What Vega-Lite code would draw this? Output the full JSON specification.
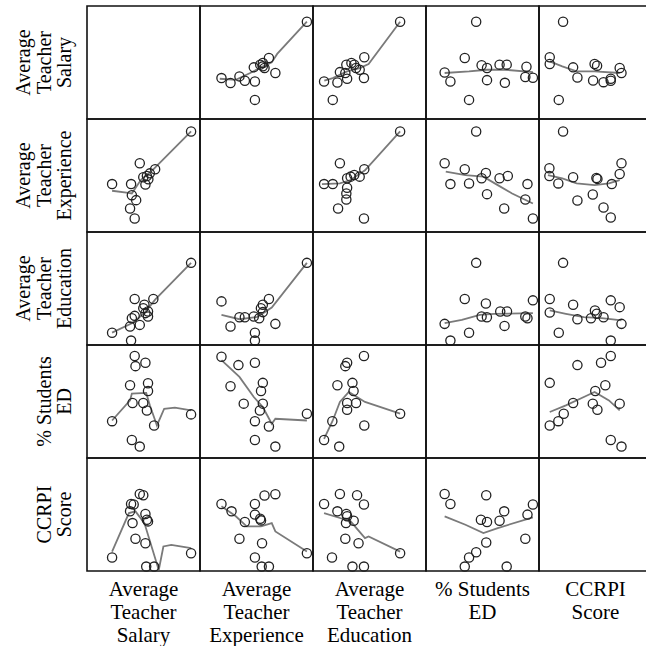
{
"$schema": "https://vega.github.io/schema/vega-lite/v6.json",
"padding": {"left": 14, "top": 5, "right": 0, "bottom": 0},
"background": "white",
"bounds": "flush",
"data": {"values": [
{"r":"S","c":"S","k":"d","x":50,"y":50},
{"r":"X","c":"X","k":"d","x":50,"y":50},
{"r":"E","c":"E","k":"d","x":50,"y":50},
{"r":"D","c":"D","k":"d","x":50,"y":50},
{"r":"C","c":"C","k":"d","x":50,"y":50},
{"r":"S","c":"X","k":"p","x":94.6,"y":86.1},{"r":"S","c":"X","k":"p","x":61.0,"y":54.0},{"r":"S","c":"X","k":"p","x":66.7,"y":40.7},{"r":"S","c":"X","k":"p","x":19.0,"y":36.2},{"r":"S","c":"X","k":"p","x":27.0,"y":31.8},{"r":"S","c":"X","k":"p","x":34.9,"y":37.7},{"r":"S","c":"X","k":"p","x":39.7,"y":33.8},{"r":"S","c":"X","k":"p","x":48.6,"y":33.2},{"r":"S","c":"X","k":"p","x":48.6,"y":16.9},{"r":"S","c":"X","k":"p","x":47.6,"y":45.7},{"r":"S","c":"X","k":"p","x":53.3,"y":48.1},{"r":"S","c":"X","k":"p","x":55.6,"y":49.6},{"r":"S","c":"X","k":"p","x":57.1,"y":45.1},{"r":"S","c":"X","k":"p","x":55.6,"y":46.6},
{"r":"S","c":"X","k":"l","x":17.5,"y":35.6},{"r":"S","c":"X","k":"l","x":31.7,"y":34.7},{"r":"S","c":"X","k":"l","x":44.4,"y":40.7},{"r":"S","c":"X","k":"l","x":54,"y":45.7},{"r":"S","c":"X","k":"l","x":63.5,"y":50.1},{"r":"S","c":"X","k":"l","x":68.3,"y":57.6},{"r":"S","c":"X","k":"l","x":94.6,"y":86.1},
{"r":"S","c":"E","k":"p","x":77.1,"y":86.1},{"r":"S","c":"E","k":"p","x":45.4,"y":54.6},{"r":"S","c":"E","k":"p","x":9.8,"y":33.2},{"r":"S","c":"E","k":"p","x":17.5,"y":16.9},{"r":"S","c":"E","k":"p","x":21.6,"y":32.3},{"r":"S","c":"E","k":"p","x":23.8,"y":41.5},{"r":"S","c":"E","k":"p","x":28.6,"y":40.7},{"r":"S","c":"E","k":"p","x":29.5,"y":48.1},{"r":"S","c":"E","k":"p","x":34.0,"y":49.6},{"r":"S","c":"E","k":"p","x":36.5,"y":48.1},{"r":"S","c":"E","k":"p","x":30.2,"y":35.6},{"r":"S","c":"E","k":"p","x":38.1,"y":45.1},{"r":"S","c":"E","k":"p","x":41.3,"y":43.6},{"r":"S","c":"E","k":"p","x":45.1,"y":36.2},
{"r":"S","c":"E","k":"l","x":10,"y":34},{"r":"S","c":"E","k":"l","x":17.5,"y":36.2},{"r":"S","c":"E","k":"l","x":30.2,"y":42.1},{"r":"S","c":"E","k":"l","x":41.3,"y":45.1},{"r":"S","c":"E","k":"l","x":49.2,"y":48.7},{"r":"S","c":"E","k":"l","x":77.1,"y":86.1},
{"r":"S","c":"D","k":"p","x":44.4,"y":86.1},{"r":"S","c":"D","k":"p","x":34.3,"y":54.0},{"r":"S","c":"D","k":"p","x":16.5,"y":41.2},{"r":"S","c":"D","k":"p","x":21.6,"y":33.2},{"r":"S","c":"D","k":"p","x":49.2,"y":47.5},{"r":"S","c":"D","k":"p","x":54.0,"y":45.1},{"r":"S","c":"D","k":"p","x":54.0,"y":34.4},{"r":"S","c":"D","k":"p","x":65.1,"y":48.1},{"r":"S","c":"D","k":"p","x":71.4,"y":48.1},{"r":"S","c":"D","k":"p","x":69.8,"y":32.0},{"r":"S","c":"D","k":"p","x":38.1,"y":16.9},{"r":"S","c":"D","k":"p","x":88.9,"y":46.3},{"r":"S","c":"D","k":"p","x":87.9,"y":37.1},{"r":"S","c":"D","k":"p","x":94.6,"y":36.5},
{"r":"S","c":"D","k":"l","x":16.5,"y":40.7},{"r":"S","c":"D","k":"l","x":38.1,"y":42.1},{"r":"S","c":"D","k":"l","x":54,"y":43.6},{"r":"S","c":"D","k":"l","x":69.8,"y":43.6},{"r":"S","c":"D","k":"l","x":94.6,"y":41.5},
{"r":"S","c":"C","k":"p","x":21.3,"y":86.1},{"r":"S","c":"C","k":"p","x":9.5,"y":54.6},{"r":"S","c":"C","k":"p","x":9.5,"y":48.7},{"r":"S","c":"C","k":"p","x":30.2,"y":45.7},{"r":"S","c":"C","k":"p","x":34.0,"y":36.8},{"r":"S","c":"C","k":"p","x":49.2,"y":48.7},{"r":"S","c":"C","k":"p","x":51.4,"y":47.2},{"r":"S","c":"C","k":"p","x":47.9,"y":34.1},{"r":"S","c":"C","k":"p","x":57.1,"y":32.6},{"r":"S","c":"C","k":"p","x":63.5,"y":33.8},{"r":"S","c":"C","k":"p","x":71.4,"y":45.1},{"r":"S","c":"C","k":"p","x":73.0,"y":40.7},{"r":"S","c":"C","k":"p","x":17.5,"y":16.9},{"r":"S","c":"C","k":"p","x":63.5,"y":35.6},
{"r":"S","c":"C","k":"l","x":9.5,"y":51.0},{"r":"S","c":"C","k":"l","x":20.6,"y":46.6},{"r":"S","c":"C","k":"l","x":33.3,"y":42.1},{"r":"S","c":"C","k":"l","x":49.2,"y":42.1},{"r":"S","c":"C","k":"l","x":71.4,"y":40.7},
{"r":"X","c":"S","k":"p","x":92.1,"y":89.0},{"r":"X","c":"S","k":"p","x":60.3,"y":55.5},{"r":"X","c":"S","k":"p","x":46.7,"y":60.8},{"r":"X","c":"S","k":"p","x":49.8,"y":48.4},{"r":"X","c":"S","k":"p","x":53.0,"y":49.6},{"r":"X","c":"S","k":"p","x":54.3,"y":46.6},{"r":"X","c":"S","k":"p","x":51.7,"y":42.1},{"r":"X","c":"S","k":"p","x":22.2,"y":42.4},{"r":"X","c":"S","k":"p","x":39.0,"y":42.4},{"r":"X","c":"S","k":"p","x":39.7,"y":32.6},{"r":"X","c":"S","k":"p","x":43.5,"y":28.2},{"r":"X","c":"S","k":"p","x":38.1,"y":20.8},{"r":"X","c":"S","k":"p","x":42.2,"y":11.9},{"r":"X","c":"S","k":"p","x":55.6,"y":51.9},
{"r":"X","c":"S","k":"l","x":22.2,"y":36.5},{"r":"X","c":"S","k":"l","x":36.5,"y":34.7},{"r":"X","c":"S","k":"l","x":39.7,"y":34.1},{"r":"X","c":"S","k":"l","x":47.6,"y":46.0},{"r":"X","c":"S","k":"l","x":58.7,"y":55.5},{"r":"X","c":"S","k":"l","x":92.1,"y":89.0},
{"r":"X","c":"E","k":"p","x":77.1,"y":89.0},{"r":"X","c":"E","k":"p","x":23.8,"y":60.8},{"r":"X","c":"E","k":"p","x":9.8,"y":42.4},{"r":"X","c":"E","k":"p","x":17.5,"y":42.4},{"r":"X","c":"E","k":"p","x":30.2,"y":47.5},{"r":"X","c":"E","k":"p","x":33.3,"y":49.0},{"r":"X","c":"E","k":"p","x":36.5,"y":50.4},{"r":"X","c":"E","k":"p","x":41.3,"y":49.0},{"r":"X","c":"E","k":"p","x":45.4,"y":55.5},{"r":"X","c":"E","k":"p","x":30.2,"y":39.2},{"r":"X","c":"E","k":"p","x":29.5,"y":34.1},{"r":"X","c":"E","k":"p","x":29.5,"y":28.8},{"r":"X","c":"E","k":"p","x":22.2,"y":20.8},{"r":"X","c":"E","k":"p","x":45.1,"y":11.9},
{"r":"X","c":"E","k":"l","x":7.9,"y":42.4},{"r":"X","c":"E","k":"l","x":23.8,"y":43.0},{"r":"X","c":"E","k":"l","x":33.3,"y":46.0},{"r":"X","c":"E","k":"l","x":46,"y":54.6},{"r":"X","c":"E","k":"l","x":77.1,"y":89.0},
{"r":"X","c":"D","k":"p","x":44.4,"y":89.0},{"r":"X","c":"D","k":"p","x":16.5,"y":60.8},{"r":"X","c":"D","k":"p","x":34.3,"y":55.5},{"r":"X","c":"D","k":"p","x":21.6,"y":42.4},{"r":"X","c":"D","k":"p","x":38.1,"y":43.0},{"r":"X","c":"D","k":"p","x":49.2,"y":47.5},{"r":"X","c":"D","k":"p","x":53.0,"y":52.2},{"r":"X","c":"D","k":"p","x":65.1,"y":47.5},{"r":"X","c":"D","k":"p","x":72.4,"y":49.6},{"r":"X","c":"D","k":"p","x":89.8,"y":42.4},{"r":"X","c":"D","k":"p","x":54.0,"y":33.5},{"r":"X","c":"D","k":"p","x":69.2,"y":20.8},{"r":"X","c":"D","k":"p","x":87.9,"y":28.8},{"r":"X","c":"D","k":"p","x":94.6,"y":11.9},
{"r":"X","c":"D","k":"l","x":17.5,"y":53.4},{"r":"X","c":"D","k":"l","x":34.9,"y":50.4},{"r":"X","c":"D","k":"l","x":50.8,"y":49.0},{"r":"X","c":"D","k":"l","x":63.5,"y":41.5},{"r":"X","c":"D","k":"l","x":76.2,"y":34.1},{"r":"X","c":"D","k":"l","x":94.6,"y":25.2},
{"r":"X","c":"C","k":"p","x":21.3,"y":89.0},{"r":"X","c":"C","k":"p","x":9.2,"y":56.4},{"r":"X","c":"C","k":"p","x":9.2,"y":49.6},{"r":"X","c":"C","k":"p","x":17.1,"y":43.0},{"r":"X","c":"C","k":"p","x":30.2,"y":48.4},{"r":"X","c":"C","k":"p","x":50.8,"y":47.8},{"r":"X","c":"C","k":"p","x":51.7,"y":47.0},{"r":"X","c":"C","k":"p","x":47.6,"y":33.2},{"r":"X","c":"C","k":"p","x":34.0,"y":27.9},{"r":"X","c":"C","k":"p","x":57.1,"y":21.7},{"r":"X","c":"C","k":"p","x":63.5,"y":12.8},{"r":"X","c":"C","k":"p","x":64.4,"y":42.4},{"r":"X","c":"C","k":"p","x":71.4,"y":51.3},{"r":"X","c":"C","k":"p","x":73.0,"y":60.8},
{"r":"X","c":"C","k":"l","x":7.9,"y":50.4},{"r":"X","c":"C","k":"l","x":20.6,"y":47.5},{"r":"X","c":"C","k":"l","x":33.3,"y":43.0},{"r":"X","c":"C","k":"l","x":49.2,"y":41.5},{"r":"X","c":"C","k":"l","x":61.9,"y":43.0},{"r":"X","c":"C","k":"l","x":71.4,"y":46.0},
{"r":"E","c":"S","k":"p","x":92.1,"y":72.7},{"r":"E","c":"S","k":"p","x":58.7,"y":40.7},{"r":"E","c":"S","k":"p","x":42.2,"y":40.7},{"r":"E","c":"S","k":"p","x":50.8,"y":35.6},{"r":"E","c":"S","k":"p","x":49.8,"y":32.6},{"r":"E","c":"S","k":"p","x":54.0,"y":29.7},{"r":"E","c":"S","k":"p","x":42.2,"y":25.8},{"r":"E","c":"S","k":"p","x":39.7,"y":23.7},{"r":"E","c":"S","k":"p","x":54.0,"y":25.2},{"r":"E","c":"S","k":"p","x":46.7,"y":17.8},{"r":"E","c":"S","k":"p","x":38.1,"y":16.3},{"r":"E","c":"S","k":"p","x":22.2,"y":10.9},{"r":"E","c":"S","k":"p","x":39.0,"y":3.9},{"r":"E","c":"S","k":"p","x":51.7,"y":28.2},
{"r":"E","c":"S","k":"l","x":22.2,"y":10.9},{"r":"E","c":"S","k":"l","x":39.7,"y":19.3},{"r":"E","c":"S","k":"l","x":50.8,"y":28.2},{"r":"E","c":"S","k":"l","x":60.3,"y":40.1},{"r":"E","c":"S","k":"l","x":92.1,"y":72.7},
{"r":"E","c":"X","k":"p","x":94.6,"y":72.7},{"r":"E","c":"X","k":"p","x":19.0,"y":38.6},{"r":"E","c":"X","k":"p","x":27.0,"y":16.3},{"r":"E","c":"X","k":"p","x":34.9,"y":24.6},{"r":"E","c":"X","k":"p","x":39.7,"y":24.6},{"r":"E","c":"X","k":"p","x":47.6,"y":25.2},{"r":"E","c":"X","k":"p","x":48.6,"y":10.9},{"r":"E","c":"X","k":"p","x":48.6,"y":3.9},{"r":"E","c":"X","k":"p","x":53.9,"y":32.6},{"r":"E","c":"X","k":"p","x":55.6,"y":35.6},{"r":"E","c":"X","k":"p","x":61.0,"y":40.7},{"r":"E","c":"X","k":"p","x":66.7,"y":18.7},{"r":"E","c":"X","k":"p","x":55.6,"y":29.1},{"r":"E","c":"X","k":"p","x":52.4,"y":23.7},
{"r":"E","c":"X","k":"l","x":19.0,"y":26.7},{"r":"E","c":"X","k":"l","x":34.9,"y":22.8},{"r":"E","c":"X","k":"l","x":50.8,"y":24.9},{"r":"E","c":"X","k":"l","x":63.5,"y":33.2},{"r":"E","c":"X","k":"l","x":94.6,"y":72.7},
{"r":"E","c":"D","k":"p","x":44.4,"y":72.7},{"r":"E","c":"D","k":"p","x":34.3,"y":40.7},{"r":"E","c":"D","k":"p","x":53.0,"y":36.8},{"r":"E","c":"D","k":"p","x":16.5,"y":18.7},{"r":"E","c":"D","k":"p","x":21.6,"y":3.9},{"r":"E","c":"D","k":"p","x":38.1,"y":10.9},{"r":"E","c":"D","k":"p","x":49.2,"y":25.2},{"r":"E","c":"D","k":"p","x":53.9,"y":24.6},{"r":"E","c":"D","k":"p","x":65.7,"y":29.7},{"r":"E","c":"D","k":"p","x":71.7,"y":29.7},{"r":"E","c":"D","k":"p","x":69.5,"y":16.9},{"r":"E","c":"D","k":"p","x":87.9,"y":25.2},{"r":"E","c":"D","k":"p","x":89.8,"y":23.7},{"r":"E","c":"D","k":"p","x":94.6,"y":39.5},
{"r":"E","c":"D","k":"l","x":16.5,"y":19.3},{"r":"E","c":"D","k":"l","x":31.7,"y":22.3},{"r":"E","c":"D","k":"l","x":47.6,"y":26.7},{"r":"E","c":"D","k":"l","x":60.3,"y":27.6},{"r":"E","c":"D","k":"l","x":94.6,"y":28.2},
{"r":"E","c":"C","k":"p","x":21.3,"y":72.7},{"r":"E","c":"C","k":"p","x":9.5,"y":40.7},{"r":"E","c":"C","k":"p","x":30.2,"y":35.6},{"r":"E","c":"C","k":"p","x":9.5,"y":28.8},{"r":"E","c":"C","k":"p","x":34.0,"y":22.8},{"r":"E","c":"C","k":"p","x":17.5,"y":10.9},{"r":"E","c":"C","k":"p","x":49.5,"y":30.6},{"r":"E","c":"C","k":"p","x":51.1,"y":27.6},{"r":"E","c":"C","k":"p","x":57.1,"y":24.6},{"r":"E","c":"C","k":"p","x":46.0,"y":23.7},{"r":"E","c":"C","k":"p","x":63.5,"y":39.5},{"r":"E","c":"C","k":"p","x":71.4,"y":33.5},{"r":"E","c":"C","k":"p","x":73.0,"y":18.7},{"r":"E","c":"C","k":"p","x":63.5,"y":3.9},
{"r":"E","c":"C","k":"l","x":9.5,"y":30.6},{"r":"E","c":"C","k":"l","x":23.8,"y":27.6},{"r":"E","c":"C","k":"l","x":39.7,"y":24.6},{"r":"E","c":"C","k":"l","x":55.6,"y":23.7},{"r":"E","c":"C","k":"l","x":73.0,"y":21.7},
{"r":"D","c":"S","k":"p","x":42.2,"y":90.2},{"r":"D","c":"S","k":"p","x":42.9,"y":81.3},{"r":"D","c":"S","k":"p","x":51.7,"y":84.3},{"r":"D","c":"S","k":"p","x":38.1,"y":64.4},{"r":"D","c":"S","k":"p","x":54.0,"y":66.2},{"r":"D","c":"S","k":"p","x":54.0,"y":59.3},{"r":"D","c":"S","k":"p","x":40.3,"y":48.7},{"r":"D","c":"S","k":"p","x":49.8,"y":48.7},{"r":"D","c":"S","k":"p","x":53.0,"y":42.1},{"r":"D","c":"S","k":"p","x":22.2,"y":32.6},{"r":"D","c":"S","k":"p","x":59.4,"y":28.8},{"r":"D","c":"S","k":"p","x":39.7,"y":16.0},{"r":"D","c":"S","k":"p","x":46.7,"y":10.1},{"r":"D","c":"S","k":"p","x":92.1,"y":38.6},
{"r":"D","c":"S","k":"l","x":22.2,"y":33.2},{"r":"D","c":"S","k":"l","x":38.1,"y":51.0},{"r":"D","c":"S","k":"l","x":39.7,"y":57.0},{"r":"D","c":"S","k":"l","x":52.4,"y":57.6},{"r":"D","c":"S","k":"l","x":55.6,"y":46.6},{"r":"D","c":"S","k":"l","x":61.9,"y":28.8},{"r":"D","c":"S","k":"l","x":68.3,"y":43.6},{"r":"D","c":"S","k":"l","x":77.8,"y":44.5},{"r":"D","c":"S","k":"l","x":92.1,"y":42.1},
{"r":"D","c":"X","k":"p","x":19.0,"y":89.6},{"r":"D","c":"X","k":"p","x":34.0,"y":82.2},{"r":"D","c":"X","k":"p","x":48.6,"y":84.3},{"r":"D","c":"X","k":"p","x":27.0,"y":63.5},{"r":"D","c":"X","k":"p","x":55.6,"y":66.5},{"r":"D","c":"X","k":"p","x":54.0,"y":59.3},{"r":"D","c":"X","k":"p","x":38.7,"y":48.1},{"r":"D","c":"X","k":"p","x":55.6,"y":48.1},{"r":"D","c":"X","k":"p","x":53.0,"y":42.1},{"r":"D","c":"X","k":"p","x":48.6,"y":32.6},{"r":"D","c":"X","k":"p","x":61.0,"y":27.9},{"r":"D","c":"X","k":"p","x":48.6,"y":16.0},{"r":"D","c":"X","k":"p","x":66.7,"y":10.1},{"r":"D","c":"X","k":"p","x":94.6,"y":39.2},
{"r":"D","c":"X","k":"l","x":19,"y":86.6},{"r":"D","c":"X","k":"l","x":34.9,"y":71.8},{"r":"D","c":"X","k":"l","x":47.6,"y":54.0},{"r":"D","c":"X","k":"l","x":55.6,"y":45.1},{"r":"D","c":"X","k":"l","x":63.5,"y":30.3},{"r":"D","c":"X","k":"l","x":66.7,"y":34.7},{"r":"D","c":"X","k":"l","x":94.6,"y":33.2},
{"r":"D","c":"E","k":"p","x":30.2,"y":84.3},{"r":"D","c":"E","k":"p","x":28.6,"y":81.3},{"r":"D","c":"E","k":"p","x":45.1,"y":90.2},{"r":"D","c":"E","k":"p","x":21.6,"y":64.4},{"r":"D","c":"E","k":"p","x":34.9,"y":66.5},{"r":"D","c":"E","k":"p","x":35.9,"y":59.3},{"r":"D","c":"E","k":"p","x":30.2,"y":48.7},{"r":"D","c":"E","k":"p","x":38.1,"y":48.7},{"r":"D","c":"E","k":"p","x":30.2,"y":42.7},{"r":"D","c":"E","k":"p","x":17.1,"y":32.6},{"r":"D","c":"E","k":"p","x":45.4,"y":28.8},{"r":"D","c":"E","k":"p","x":9.8,"y":16.0},{"r":"D","c":"E","k":"p","x":23.2,"y":10.1},{"r":"D","c":"E","k":"p","x":77.1,"y":39.2},
{"r":"D","c":"E","k":"l","x":9.8,"y":16.9},{"r":"D","c":"E","k":"l","x":17.5,"y":33.2},{"r":"D","c":"E","k":"l","x":23.8,"y":49.6},{"r":"D","c":"E","k":"l","x":31.7,"y":58.5},{"r":"D","c":"E","k":"l","x":46.0,"y":49.6},{"r":"D","c":"E","k":"l","x":77.1,"y":39.2},
{"r":"D","c":"C","k":"p","x":63.5,"y":90.2},{"r":"D","c":"C","k":"p","x":54.9,"y":84.3},{"r":"D","c":"C","k":"p","x":34.0,"y":82.2},{"r":"D","c":"C","k":"p","x":9.5,"y":66.5},{"r":"D","c":"C","k":"p","x":58.7,"y":64.4},{"r":"D","c":"C","k":"p","x":49.8,"y":59.3},{"r":"D","c":"C","k":"p","x":30.2,"y":48.7},{"r":"D","c":"C","k":"p","x":47.6,"y":48.1},{"r":"D","c":"C","k":"p","x":51.7,"y":42.7},{"r":"D","c":"C","k":"p","x":71.4,"y":48.1},{"r":"D","c":"C","k":"p","x":21.9,"y":39.2},{"r":"D","c":"C","k":"p","x":17.1,"y":32.6},{"r":"D","c":"C","k":"p","x":9.5,"y":28.8},{"r":"D","c":"C","k":"p","x":63.5,"y":16.0},{"r":"D","c":"C","k":"p","x":73.0,"y":10.1},
{"r":"D","c":"C","k":"l","x":9.5,"y":40.7},{"r":"D","c":"C","k":"l","x":23.8,"y":46.6},{"r":"D","c":"C","k":"l","x":39.7,"y":54.0},{"r":"D","c":"C","k":"l","x":49.2,"y":58.5},{"r":"D","c":"C","k":"l","x":61.9,"y":51.0},{"r":"D","c":"C","k":"l","x":71.4,"y":42.1},
{"r":"C","c":"S","k":"p","x":46.7,"y":68.2},{"r":"C","c":"S","k":"p","x":49.8,"y":67.1},{"r":"C","c":"S","k":"p","x":39.0,"y":59.3},{"r":"C","c":"S","k":"p","x":41.3,"y":58.8},{"r":"C","c":"S","k":"p","x":38.1,"y":52.8},{"r":"C","c":"S","k":"p","x":51.7,"y":50.4},{"r":"C","c":"S","k":"p","x":53.0,"y":45.4},{"r":"C","c":"S","k":"p","x":54.0,"y":43.9},{"r":"C","c":"S","k":"p","x":40.3,"y":42.4},{"r":"C","c":"S","k":"p","x":42.9,"y":28.5},{"r":"C","c":"S","k":"p","x":51.7,"y":24.6},{"r":"C","c":"S","k":"p","x":22.2,"y":11.9},{"r":"C","c":"S","k":"p","x":52.4,"y":3.9},{"r":"C","c":"S","k":"p","x":59.4,"y":3.9},{"r":"C","c":"S","k":"p","x":92.1,"y":15.7},
{"r":"C","c":"S","k":"l","x":22.2,"y":17.2},{"r":"C","c":"S","k":"l","x":37.1,"y":51.3},{"r":"C","c":"S","k":"l","x":42.9,"y":52.8},{"r":"C","c":"S","k":"l","x":50.8,"y":42.4},{"r":"C","c":"S","k":"l","x":63.5,"y":0.9},{"r":"C","c":"S","k":"l","x":67.6,"y":21.7},{"r":"C","c":"S","k":"l","x":74.6,"y":23.1},{"r":"C","c":"S","k":"l","x":92.1,"y":20.2},
{"r":"C","c":"X","k":"p","x":19.0,"y":59.3},{"r":"C","c":"X","k":"p","x":27.9,"y":52.8},{"r":"C","c":"X","k":"p","x":39.7,"y":43.3},{"r":"C","c":"X","k":"p","x":48.6,"y":59.3},{"r":"C","c":"X","k":"p","x":48.6,"y":49.9},{"r":"C","c":"X","k":"p","x":53.3,"y":46.3},{"r":"C","c":"X","k":"p","x":54.0,"y":44.8},{"r":"C","c":"X","k":"p","x":57.1,"y":66.8},{"r":"C","c":"X","k":"p","x":66.7,"y":68.0},{"r":"C","c":"X","k":"p","x":34.9,"y":28.5},{"r":"C","c":"X","k":"p","x":54.9,"y":24.6},{"r":"C","c":"X","k":"p","x":48.6,"y":11.9},{"r":"C","c":"X","k":"p","x":54.6,"y":3.9},{"r":"C","c":"X","k":"p","x":61.0,"y":3.9},{"r":"C","c":"X","k":"p","x":94.6,"y":15.7},
{"r":"C","c":"X","k":"l","x":19,"y":57.3},{"r":"C","c":"X","k":"l","x":31.7,"y":48.4},{"r":"C","c":"X","k":"l","x":41.3,"y":39.5},{"r":"C","c":"X","k":"l","x":54,"y":39.5},{"r":"C","c":"X","k":"l","x":63.5,"y":42.4},{"r":"C","c":"X","k":"l","x":66.7,"y":35.0},{"r":"C","c":"X","k":"l","x":94.6,"y":17.2},
{"r":"C","c":"E","k":"p","x":9.8,"y":59.3},{"r":"C","c":"E","k":"p","x":23.8,"y":68.2},{"r":"C","c":"E","k":"p","x":39.0,"y":67.1},{"r":"C","c":"E","k":"p","x":45.1,"y":58.8},{"r":"C","c":"E","k":"p","x":21.6,"y":52.8},{"r":"C","c":"E","k":"p","x":29.5,"y":50.4},{"r":"C","c":"E","k":"p","x":30.2,"y":48.4},{"r":"C","c":"E","k":"p","x":36.0,"y":44.5},{"r":"C","c":"E","k":"p","x":29.2,"y":42.4},{"r":"C","c":"E","k":"p","x":28.6,"y":28.5},{"r":"C","c":"E","k":"p","x":40.3,"y":24.6},{"r":"C","c":"E","k":"p","x":16.8,"y":11.9},{"r":"C","c":"E","k":"p","x":34.9,"y":3.9},{"r":"C","c":"E","k":"p","x":45.1,"y":3.9},{"r":"C","c":"E","k":"p","x":77.1,"y":15.7},
{"r":"C","c":"E","k":"l","x":9.8,"y":51.3},{"r":"C","c":"E","k":"l","x":23.8,"y":46.9},{"r":"C","c":"E","k":"l","x":33.3,"y":43.9},{"r":"C","c":"E","k":"l","x":46.0,"y":29.1},{"r":"C","c":"E","k":"l","x":49.2,"y":30.6},{"r":"C","c":"E","k":"l","x":77.1,"y":17.2},
{"r":"C","c":"D","k":"p","x":16.5,"y":68.2},{"r":"C","c":"D","k":"p","x":21.6,"y":59.3},{"r":"C","c":"D","k":"p","x":53.3,"y":67.1},{"r":"C","c":"D","k":"p","x":48.6,"y":45.4},{"r":"C","c":"D","k":"p","x":54.0,"y":43.3},{"r":"C","c":"D","k":"p","x":65.1,"y":44.5},{"r":"C","c":"D","k":"p","x":69.2,"y":52.8},{"r":"C","c":"D","k":"p","x":89.8,"y":49.9},{"r":"C","c":"D","k":"p","x":94.6,"y":58.8},{"r":"C","c":"D","k":"p","x":53.3,"y":25.2},{"r":"C","c":"D","k":"p","x":44.4,"y":16.6},{"r":"C","c":"D","k":"p","x":38.1,"y":11.9},{"r":"C","c":"D","k":"p","x":34.3,"y":3.9},{"r":"C","c":"D","k":"p","x":71.4,"y":3.9},{"r":"C","c":"D","k":"p","x":87.9,"y":28.5},
{"r":"C","c":"D","k":"l","x":16.5,"y":48.4},{"r":"C","c":"D","k":"l","x":34.9,"y":40.9},{"r":"C","c":"D","k":"l","x":50.8,"y":33.5},{"r":"C","c":"D","k":"l","x":63.5,"y":38.0},{"r":"C","c":"D","k":"l","x":94.6,"y":47.5}
]},
"facet": {
  "row": {"field": "r", "type": "nominal", "sort": ["S","X","E","D","C"], "title": null,
    "header": {"labelExpr": "datum.value=='S'?['Average','Teacher','Salary']:datum.value=='X'?['Average','Teacher','Experience']:datum.value=='E'?['Average','Teacher','Education']:datum.value=='D'?['% Students','ED']:['CCRPI','Score']",
      "labelOrient": "left", "labelAngle": -90, "labelAlign": "center", "labelBaseline": "bottom",
      "labelFont": "Liberation Serif", "labelFontSize": 20, "labelLineHeight": 20.5, "labelColor": "black", "labelPadding": -8}},
  "column": {"field": "c", "type": "nominal", "sort": ["S","X","E","D","C"], "title": null,
    "header": {"labelExpr": "datum.value=='S'?['Average','Teacher','Salary']:datum.value=='X'?['Average','Teacher','Experience']:datum.value=='E'?['Average','Teacher','Education']:datum.value=='D'?['% Students','ED']:['CCRPI','Score']",
      "labelOrient": "bottom", "labelAngle": 0, "labelAlign": "center", "labelBaseline": "top",
      "labelFont": "Liberation Serif", "labelFontSize": 21, "labelLineHeight": 23, "labelColor": "black", "labelPadding": 8}}
},
"spacing": {"row": 0, "column": 0},
"spec": {
  "width": 113, "height": 113,
  "encoding": {
    "x": {"field": "x", "type": "quantitative", "scale": {"domain": [0, 100], "nice": false, "zero": false}, "axis": null},
    "y": {"field": "y", "type": "quantitative", "scale": {"domain": [0, 100], "nice": false, "zero": false}, "axis": null}
  },
  "layer": [
    {"transform": [{"filter": "datum.k == 'l'"}], "mark": {"type": "line", "color": "#7a7a7a", "strokeWidth": 1.8}},
    {"transform": [{"filter": "datum.k == 'p'"}], "mark": {"type": "point", "shape": "circle", "filled": false, "size": 85, "stroke": "#222222", "strokeWidth": 1.3, "opacity": 1}}
  ]
},
"config": {"view": {"stroke": "#111111", "strokeWidth": 1.6}, "facet": {"spacing": 0}}
}
